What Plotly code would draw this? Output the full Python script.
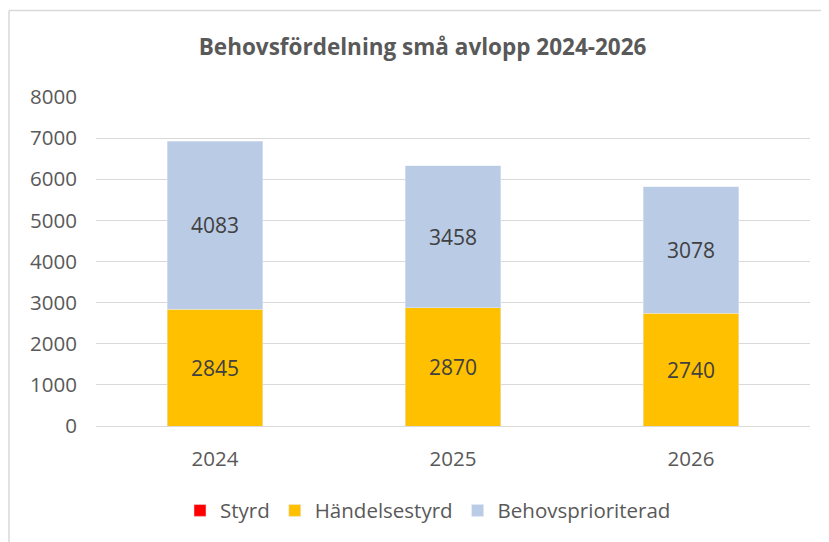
import plotly.graph_objects as go

years = ["2024", "2025", "2026"]
styrd = [0, 0, 0]
handelsestyrd = [2845, 2870, 2740]
behovsprioriterad = [4083, 3458, 3078]
y_ticks = [0, 1000, 2000, 3000, 4000, 5000, 6000, 7000, 8000]

FONT = "Open Sans"
GREY = "#595959"

# sidan har 8px marginal i body, så figuren görs 8px mindre
W, H = 821, 534

fig = go.Figure()
fig.add_trace(go.Bar(x=years, y=styrd, name="Styrd", marker_color="#FF0000"))
fig.add_trace(go.Bar(
    x=years, y=handelsestyrd, name="Händelsestyrd", marker_color="#FFC000",
    text=handelsestyrd, textposition="inside", insidetextanchor="middle",
    textfont=dict(family=FONT, size=21, color="#404040"),
))
fig.add_trace(go.Bar(
    x=years, y=behovsprioriterad, name="Behovsprioriterad", marker_color="#BACBE6",
    text=behovsprioriterad, textposition="inside", insidetextanchor="middle",
    textfont=dict(family=FONT, size=21, color="#404040"),
))

fig.update_layout(
    width=W, height=H,
    barmode="stack", bargap=0.6,
    margin=dict(l=88, r=19, t=89, b=114),
    paper_bgcolor="white", plot_bgcolor="white",
    font=dict(family=FONT, color=GREY, size=20),
    title=dict(
        text="<b>Behovsfördelning små avlopp 2024-2026</b>",
        x=0.505, xanchor="center", y=1 - 39 / H, yanchor="middle",
        font=dict(family=FONT, size=22.5, color=GREY),
    ),
    showlegend=True,
    legend=dict(
        orientation="h", x=0.465, xanchor="center", y=-0.257, yanchor="middle",
        font=dict(family=FONT, size=20.5, color=GREY),
        itemwidth=30, traceorder="normal",
    ),
    uniformtext=dict(mode="show", minsize=10),
)
fig.update_yaxes(
    range=[0, 8000], tickvals=y_ticks, showgrid=True, gridcolor="#D9D9D9",
    gridwidth=1, zeroline=False, showline=False, ticks="",
    ticklabelstandoff=18,
    tickfont=dict(family=FONT, size=20.5, color=GREY),
)
fig.update_xaxes(
    showline=True, linecolor="#D9D9D9", linewidth=1, ticks="",
    ticklabelstandoff=14,
    tickfont=dict(family=FONT, size=20.5, color=GREY),
)

# ramen runt diagrammet (vänster + topp)
fig.add_shape(type="line", xref="paper", yref="paper",
              x0=-87 / 714, x1=-87 / 714, y0=418 / 331, y1=-0.4,
              line=dict(color="#D9D9D9", width=1.5))
fig.add_shape(type="line", xref="paper", yref="paper",
              x0=-87 / 714, x1=1.05, y0=418 / 331, y1=418 / 331,
              line=dict(color="#D9D9D9", width=1.5))

fig.write_html("out.html")
